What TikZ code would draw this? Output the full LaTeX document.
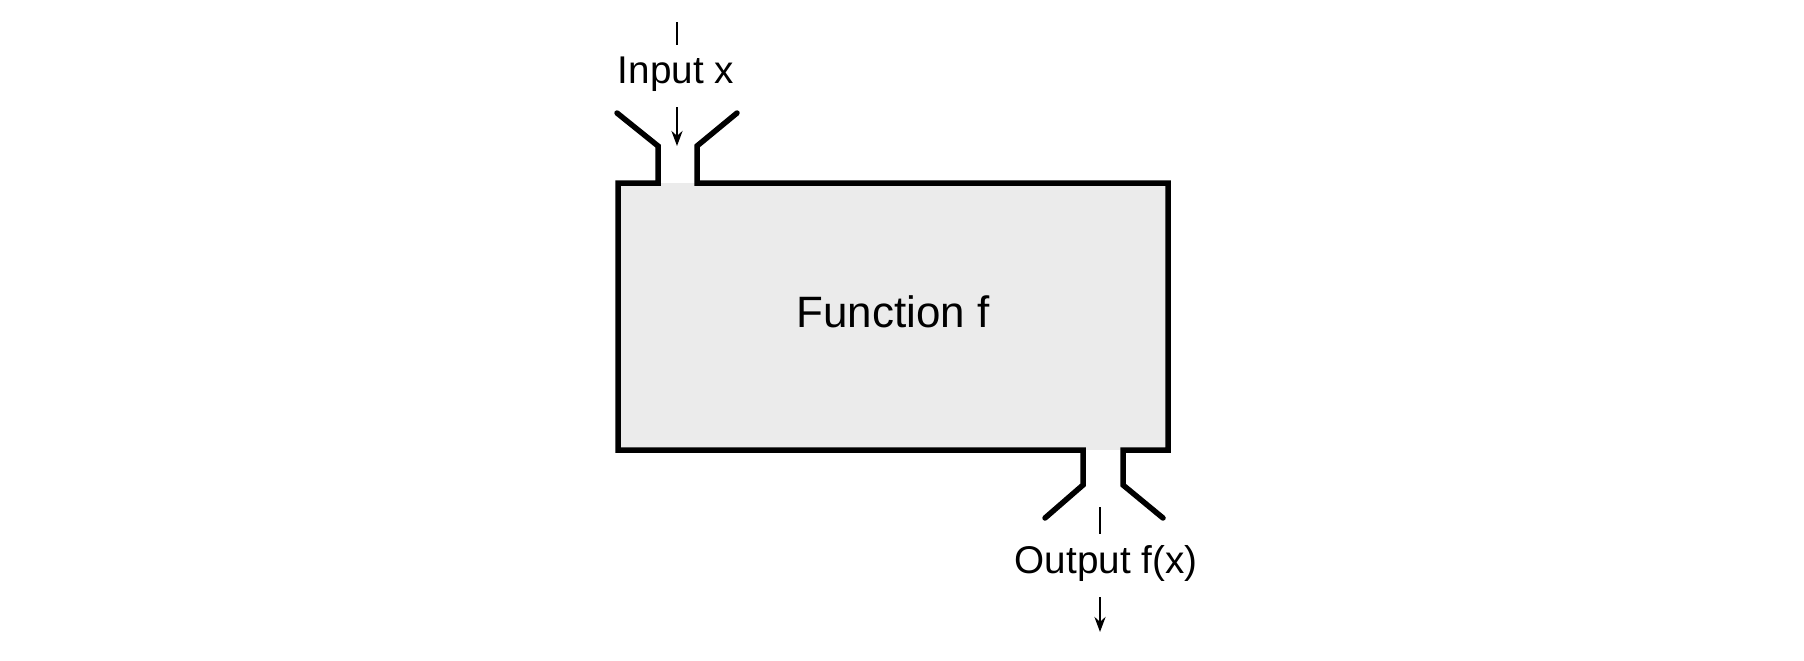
\documentclass[tikz,border=0pt]{standalone}
\usepackage{fontspec}
\setmainfont{Liberation Sans}
\usetikzlibrary{arrows.meta}
\definecolor{boxfill}{HTML}{EBEBEB}
\tikzset{
  wall/.style={line width=0.11cm, line cap=round, line join=miter, black},
  tick/.style={line width=0.055cm, black},
  flow/.style={line width=0.055cm, black, -{Stealth[length=0.3cm,width=0.22cm]}},
  lbl/.style={inner sep=0pt, anchor=base, font=\fontsize{22}{26}\selectfont},
  mainlbl/.style={inner sep=0pt, anchor=base, font=\fontsize{25}{30}\selectfont}
}
\begin{document}
\begin{tikzpicture}[x=0.02cm, y=-0.02cm]
\useasboundingbox (0,0) rectangle (1804,660);
% box body
\fill[boxfill] (618,183) rectangle (1168,450);
\coordinate (box) at (893,316);
% input funnel and box outline
\draw[wall] (617,113) -- (658,146) -- (658,183) -- (618,183) -- (618,450) -- (1083,450) -- (1083,485) -- (1045,518);
\draw[wall] (737,113) -- (697,146) -- (697,183) -- (1168,183) -- (1168,450) -- (1123,450) -- (1123,485) -- (1163,518);
% labels
\node[mainlbl] (func) at (893,327) {Function f};
\node[lbl] (inlbl) at (676,83) {Input x};
\node[lbl] (outlbl) at (1106,573) {Output f(x)};
% ticks and arrows
\coordinate (intop) at (677,22);
\coordinate (intopb) at (677,45);
\coordinate (inarrS) at (677,107);
\coordinate (inarrE) at (677,146);
\coordinate (outtick) at (1100,507);
\coordinate (outtickb) at (1100,534);
\coordinate (outarrS) at (1100,597);
\coordinate (outarrE) at (1100,632);
\draw[tick] (intop) -- (intopb);
\draw[flow] (inarrS) -- (inarrE);
\draw[tick] (outtick) -- (outtickb);
\draw[flow] (outarrS) -- (outarrE);
\end{tikzpicture}
\end{document}
